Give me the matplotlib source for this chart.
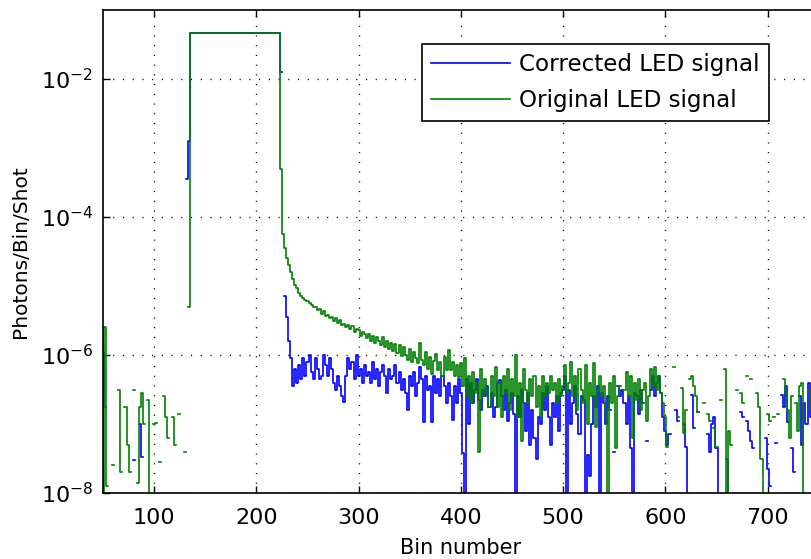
import numpy as np
import matplotlib
matplotlib.use("Agg")
import matplotlib.pyplot as plt
from matplotlib.ticker import NullLocator

N = None
bins = np.arange(50, 762, 2)

# log10 of Photons/Bin/Shot, one value every 2 bins (None = non-positive value)
corrected_log = [
    -5.96, -6.75, N, N, N, N, N, N, N, N,                                  # 50
    N, N, N, N, N, -7.52, N, N, -7.0, -7.48,                               # 70
    N, N, N, N, N, N, N, N, N, N,                                          # 90
    N, N, N, N, N, N, N, N, N, N,                                          # 110
    N, -3.45, -2.9, -1.33, -1.33, -1.33, -1.33, -1.33, -1.33, -1.33,       # 130
    -1.33, -1.33, -1.33, -1.33, -1.33, -1.33, -1.33, -1.33, -1.33, -1.33,  # 150
    -1.33, -1.33, -1.33, -1.33, -1.33, -1.33, -1.33, -1.33, -1.33, -1.33,  # 170
    -1.33, -1.33, -1.33, -1.33, -1.33, -1.33, -1.33, -1.33, -1.33, -1.33,  # 190
    -1.33, -1.33, -1.33, -1.33, -1.33, -1.33, -1.33, -1.9, N, -5.15,       # 210
    -5.45, -5.8, -6.05, -6.45, -6.2, -6.4, -6.15, -6.35, -6.05, -6.3,      # 230
    -6.1, -6.0, -6.25, -6.35, -6.05, -6.2, -6.35, -6.3, -6.0, -6.15,       # 250
    -6.3, -6.05, -6.2, -6.4, -6.5, -6.3, -6.45, -6.6, -6.68, -6.3,         # 270
    -6.05, -6.2, -6.1, -6.35, -6.0, -6.3, -6.2, -6.4, -6.15, -6.3,         # 290
    -6.25, -6.4, -6.1, -6.35, -6.2, -6.45, -6.25, -6.15, -6.3, -6.55,      # 310
    -6.2, -6.35, -6.3, -6.15, -6.4, -6.25, -6.5, -6.35, -6.55, -6.8,       # 330
    -6.3, -6.45, -6.25, -6.6, -6.4, -6.17, -6.35, -6.97, -6.3, -6.5,       # 350
    -6.45, -6.97, -6.3, -6.55, -6.35, -6.6, -6.3, -6.45, -6.7, -6.4,       # 370
    -6.6, -6.94, -6.45, -6.7, -6.35, -6.55, -7.42, -9, -6.35, -7.0,        # 390
    -6.4, -6.7, -6.5, -6.35, -6.65, -6.8, -6.5, -6.6, -6.45, -6.75,        # 410
    -6.55, -6.9, -6.75, -6.4, -6.36, -6.6, -6.8, -6.5, -6.95, -6.7,        # 430
    -6.55, -6.85, -9, -6.6, -6.9, -6.5, -6.7, -7.1, -6.55, -7.3,           # 450
    -6.8, -7.2, -7.5, -6.9, -7.0, -6.55, -6.8, -6.45, -6.9, -7.3,          # 470
    -6.7, -6.9, -6.6, -7.1, -6.55, -6.5, -6.3, -9, -6.5, -7.0,             # 490
    -6.7, -6.45, -6.85, -7.15, -6.6, -6.65, -9, -7.45, -7.75, -7.0,        # 510
    -6.6, -6.75, -6.45, -9, -6.55, -6.7, -7.0, -6.6, -6.8, N,              # 530
    -7.41, N, -6.45, -6.6, -6.5, -6.7, -7.0, -6.6, -7.35, -9,              # 550
    -6.55, -6.6, -6.85, -6.5, -6.7, N, -7.25, N, -6.5, -6.3,               # 570
    -6.6, -6.4, -6.3, -6.55, -6.9, -7.1, -7.3, -7.15, N, N,                # 590
    -6.8, -6.95, N, N, -7.0, -7.33, -9, N, -6.58, -7.06,                   # 610
    N, -6.83, N, N, N, N, -7.15, -7.4, -7.0, -6.9,                         # 630
    -7.35, -9, N, N, N, -7.5, -9, N, N, N,                                 # 650
    N, N, -6.83, -6.9, N, -6.95, -7.1, -7.25, -7.35, N,                    # 670
    N, N, N, N, -7.2, -7.65, -7.9, N, N, -7.28,                            # 690
    N, N, -6.58, -6.75, -6.45, -6.97, N, -7.35, -7.7, N,                   # 710
    N, -6.6, -7.3, -6.7, -7.0, -6.4, -6.9, N, -7.1, -6.8,                  # 730
    -6.6, N, -7.2, -6.9, N, -6.8,                                          # 750
]

original_log = [
    -9, -5.6, -7.9, N, N, -7.6, N, N, -6.5, -7.7,                          # 50
    N, -6.75, -7.3, -7.7, N, -6.5, N, -7.85, -6.75, -6.55,                 # 70
    -7.0, N, -6.65, -9, N, -7.0, -6.98, N, -7.55, N,                       # 90
    -6.6, -6.9, -7.2, N, -6.9, -7.3, N, -6.85, N, N,                       # 110
    -7.4, N, -5.3, -1.33, -1.33, -1.33, -1.33, -1.33, -1.33, -1.33,        # 130
    -1.33, -1.33, -1.33, -1.33, -1.33, -1.33, -1.33, -1.33, -1.33, -1.33,  # 150
    -1.33, -1.33, -1.33, -1.33, -1.33, -1.33, -1.33, -1.33, -1.33, -1.33,  # 170
    -1.33, -1.33, -1.33, -1.33, -1.33, -1.33, -1.33, -1.33, -1.33, -1.33,  # 190
    -1.33, -1.33, -1.33, -1.33, -1.33, -1.33, -1.33, -3.3, -4.25, -4.45,   # 210
    -4.6, -4.7, -4.8, -4.9, -4.98, -5.03, -5.1, -5.15, -5.17, -5.2,        # 230
    -5.22, -5.25, -5.27, -5.3, -5.31, -5.35, -5.33, -5.4, -5.36, -5.44,    # 250
    -5.42, -5.47, -5.45, -5.5, -5.47, -5.53, -5.49, -5.56, -5.55, -5.6,    # 270
    -5.56, -5.63, -5.58, -5.66, -5.62, -5.64, -5.72, -5.66, -5.7, -5.76,   # 290
    -5.7, -5.8, -5.72, -5.82, -5.74, -5.79, -5.86, -5.74, -5.88, -5.8,     # 310
    -5.92, -5.82, -5.94, -5.84, -5.97, -5.86, -6.02, -5.88, -6.0, -6.07,   # 330
    -5.91, -6.1, -5.96, -6.04, -6.12, -5.83, -6.07, -6.14, -5.95, -6.2,    # 350
    -6.03, -6.27, -6.08, -5.98, -6.22, -6.1, -6.3, -6.03, -6.22, -5.93,    # 370
    -6.22, -6.1, -6.3, -6.15, -6.32, -6.12, -6.45, -6.05, -6.6, -6.3,      # 390
    -6.7, -6.25, -6.55, -6.4, -7.4, -6.2, -6.6, -6.35, -6.5, -6.75,        # 410
    -6.3, -6.6, -6.18, -6.75, -6.4, -6.9, -6.3, -6.55, -6.2, -6.8,         # 430
    -6.35, -6.6, -6.0, -6.9, -6.4, -7.25, -6.2, -6.5, -6.7, -6.35,         # 450
    -6.6, -6.3, -6.75, -6.45, -6.9, -6.3, -6.6, -6.4, -6.55, -6.3,         # 470
    -6.5, -6.4, -6.7, -6.35, -6.6, -6.45, -6.15, -6.55, -6.4, -6.1,        # 490
    -6.6, -6.3, -6.8, -6.2, -6.5, -6.7, -6.15, -7.0, -6.4, -6.6,           # 510
    -6.12, -7.05, -6.5, -6.3, -6.6, -6.45, -6.8, -9, -6.4, -6.7,           # 530
    -6.3, -7.35, -6.6, -6.45, N, -6.5, -6.25, -6.6, -6.3, -7.2,            # 550
    -6.4, -6.65, -6.35, -6.8, -6.5, -6.4, -6.95, -6.6, -6.2, -6.45,        # 570
    -6.17, -6.5, -6.3, -6.55, -6.7, -6.9, -7.33, N, N, -6.17,              # 590
    N, -6.9, N, -6.48, -7.13, -6.8, N, -6.35, -6.3, -6.45,                 # 610
    -6.6, -6.83, N, N, -6.7, N, -6.85, -6.95, N, -7.06,                    # 630
    -7.33, N, -6.65, N, -6.2, -9, -7.1, -7.3, N, N,                        # 650
    -6.5, N, -6.55, -6.7, N, -6.3, N, -6.35, N, N,                         # 670
    -6.55, -6.75, -7.5, -9, N, -6.85, -6.95, N, -6.9, N,                   # 690
    -6.85, N, N, -6.35, -6.55, -6.8, -7.2, -6.6, N, -6.7,                  # 710
    -7.1, -6.45, -6.4, -9, N, -6.5, -6.8, N, -6.6, -6.9,                   # 730
    -6.5, N, -6.7, -6.4, N, -6.6,                                          # 750
]

series_labels = ["Corrected LED signal", "Original LED signal"]
x_ticks = [100, 200, 300, 400, 500, 600, 700]
y_ticks = [1e-8, 1e-6, 1e-4, 1e-2]
y_tick_labels = [r"$10^{-8}$", r"$10^{-6}$", r"$10^{-4}$", r"$10^{-2}$"]

corrected = 10.0 ** np.array(corrected_log, dtype=float)
original = 10.0 ** np.array(original_log, dtype=float)

plt.rcParams["font.family"] = ["DejaVu Sans"]
plt.rcParams["mathtext.default"] = "regular"

fig = plt.figure(figsize=(8.11, 5.59), dpi=100)
ax = fig.add_axes([103 / 811, 66 / 559, 726 / 811, 483 / 559])

ax.plot(bins, corrected, color="#0000ff", lw=1.2, drawstyle="steps-mid",
        label=series_labels[0])
ax.plot(bins, original, color="#008000", lw=1.2, drawstyle="steps-mid",
        label=series_labels[1])

ax.set_yscale("log")
ax.set_ylim(1e-8, 1e-1)
ax.set_xlim(50, 760)
ax.set_xticks(x_ticks)
ax.set_yticks(y_ticks)
ax.set_yticklabels(y_tick_labels)
ax.yaxis.set_minor_locator(NullLocator())

ax.grid(True, which="major", color="black", linestyle=(0, (0.8, 6.2)), lw=1.0)
ax.tick_params(direction="in", length=5, width=1, top=True, right=False,
               labelsize=16, colors="black")
ax.tick_params(axis="x", pad=11)
ax.tick_params(axis="y", pad=7)
for s in ax.spines.values():
    s.set_linewidth(1.2)

ax.set_xlabel("Bin number", fontsize=15)
ax.xaxis.set_label_coords(0.493, -0.093)
ax.set_ylabel("Photons/Bin/Shot", fontsize=14.5)
ax.yaxis.set_label_coords(-0.10, 0.5)

leg = ax.legend(loc="upper left", bbox_to_anchor=(422 / 811, 1 - 44 / 559),
                bbox_transform=fig.transFigure, fontsize=16.6, frameon=True,
                fancybox=False, edgecolor="black", framealpha=1,
                handlelength=3.4, handletextpad=0.4, labelspacing=0.55,
                borderpad=0.4, borderaxespad=0)
leg.get_frame().set_linewidth(1.2)
for h in leg.get_lines():
    h.set_linewidth(1.2)

fig.savefig("out.png", dpi=100)
